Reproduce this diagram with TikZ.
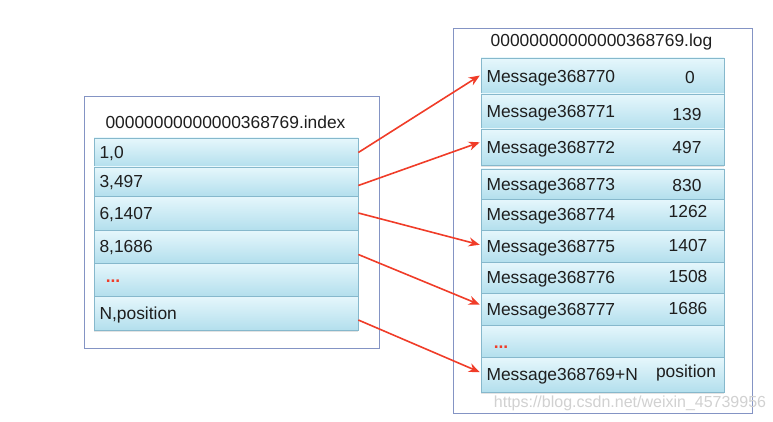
\documentclass[tikz,border=0pt]{standalone}
\usepackage{fontspec}
\setmainfont{Liberation Sans}
\usetikzlibrary{arrows.meta,shadows}
\definecolor{rowtop}{HTML}{E6F7FC}
\definecolor{rowbot}{HTML}{B3DFED}
\definecolor{rowline}{HTML}{86B8CC}
\definecolor{boxline}{HTML}{8494C4}
\definecolor{arrred}{HTML}{F03C28}
\definecolor{txt}{HTML}{1E1E1E}
\tikzset{
  outerbox/.style={draw=boxline, line width=0.9pt, fill=white, inner sep=0pt},
  rowbox/.style={draw=rowline, line width=0.7pt, top color=rowtop, bottom color=rowbot,
     inner xsep=5.5pt, inner ysep=0pt, align=left, text=txt,
     text height=12.5pt, text depth=0pt,
     font=\fontsize{17.4}{20}\selectfont,
     drop shadow={opacity=0.22, shadow xshift=0pt, shadow yshift=-1.6pt}},
  numtext/.style={text=txt, font=\fontsize{17.4}{20}\selectfont, inner sep=0pt},
  titletext/.style={text=txt, font=\fontsize{17.4}{20}\selectfont, inner sep=0pt},
  dots/.style={text=arrred, font=\fontsize{17.4}{20}\selectfont\bfseries, inner sep=0pt},
  arr/.style={draw=arrred, line width=1.6pt, -{Stealth[length=11pt,width=9pt]}, shorten >=1pt}
}
\begin{document}
\begin{tikzpicture}[x=1pt,y=-1pt]
\useasboundingbox (0,0) rectangle (773,422);
% ---- index file ----
\node[outerbox, minimum width=295pt, minimum height=252pt, anchor=north west] (ibox) at (84,96) {};
\node[titletext] (ititle) at (225.5,122) {00000000000000368769.index};
\node[rowbox, text width=253pt, minimum height=29pt] (i1) at (226,152.5) {1,0};
\node[rowbox, text width=253pt, minimum height=29pt] (i2) at (226,181.5) {3,497};
\node[rowbox, text width=253pt, minimum height=34pt] (i3) at (226,213) {6,1407};
\node[rowbox, text width=253pt, minimum height=33pt] (i4) at (226,246.5) {8,1686};
\node[rowbox, text width=253pt, minimum height=33pt] (i5) at (226,279.5) {};
\node[dots] (idots) at (113,281) {...};
\node[rowbox, text width=253pt, minimum height=34pt] (i6) at (226,313) {N,position};
% ---- log file ----
\node[outerbox, minimum width=299pt, minimum height=385pt, anchor=north west] (lbox) at (453,28) {};
\node[titletext] (ltitle) at (601.5,42) {00000000000000368769.log};
\node[rowbox, text width=232pt, minimum height=36pt] (m0) at (602.5,76) {Message368770};
\node[rowbox, text width=232pt, minimum height=35pt] (m1) at (602.5,111.5) {Message368771};
\node[rowbox, text width=232pt, minimum height=36pt] (m2) at (602.5,147) {Message368772};
\node[rowbox, text width=232pt, minimum height=30pt] (m3) at (602.5,184) {Message368773};
\node[rowbox, text width=232pt, minimum height=31pt] (m4) at (602.5,214.5) {Message368774};
\node[rowbox, text width=232pt, minimum height=32pt] (m5) at (602.5,246) {Message368775};
\node[rowbox, text width=232pt, minimum height=31pt] (m6) at (602.5,277.5) {Message368776};
\node[rowbox, text width=232pt, minimum height=32pt] (m7) at (602.5,309) {Message368777};
\node[rowbox, text width=232pt, minimum height=32pt] (m8) at (602.5,341) {};
\node[dots] (mdots) at (501,347) {...};
\node[rowbox, text width=232pt, minimum height=35pt] (m9) at (602.5,374.5) {Message368769+N};
% numbers
\node[numtext] (n0) at (690,78) {0};
\node[numtext] (n1) at (687,115) {139};
\node[numtext] (n2) at (687,148) {497};
\node[numtext] (n3) at (687,186) {830};
\node[numtext] (n4) at (688,212) {1262};
\node[numtext] (n5) at (688,246) {1407};
\node[numtext] (n6) at (688,277) {1508};
\node[numtext] (n7) at (688,309) {1686};
\node[numtext] (n9) at (686,373) {position};
% ---- arrows ----
\draw[arr] ([yshift=0pt]i1.east) -- ([yshift=1pt]m0.west);
\draw[arr] ([yshift=-4pt]i2.east) -- ([yshift=5pt]m2.west);
\draw[arr] ([yshift=0pt]i3.east) -- ([yshift=1pt]m5.west);
\draw[arr] ([yshift=-8pt]i4.east) -- ([yshift=4pt]m7.west);
\draw[arr] ([yshift=-7pt]i6.east) -- ([yshift=2pt]m9.west);
% ---- watermark ----
\node[text=black!18, font=\fontsize{16}{18}\selectfont, inner sep=0pt] (wm) at (630,403) {https://blog.csdn.net/weixin\_45739956};
\end{tikzpicture}
\end{document}
